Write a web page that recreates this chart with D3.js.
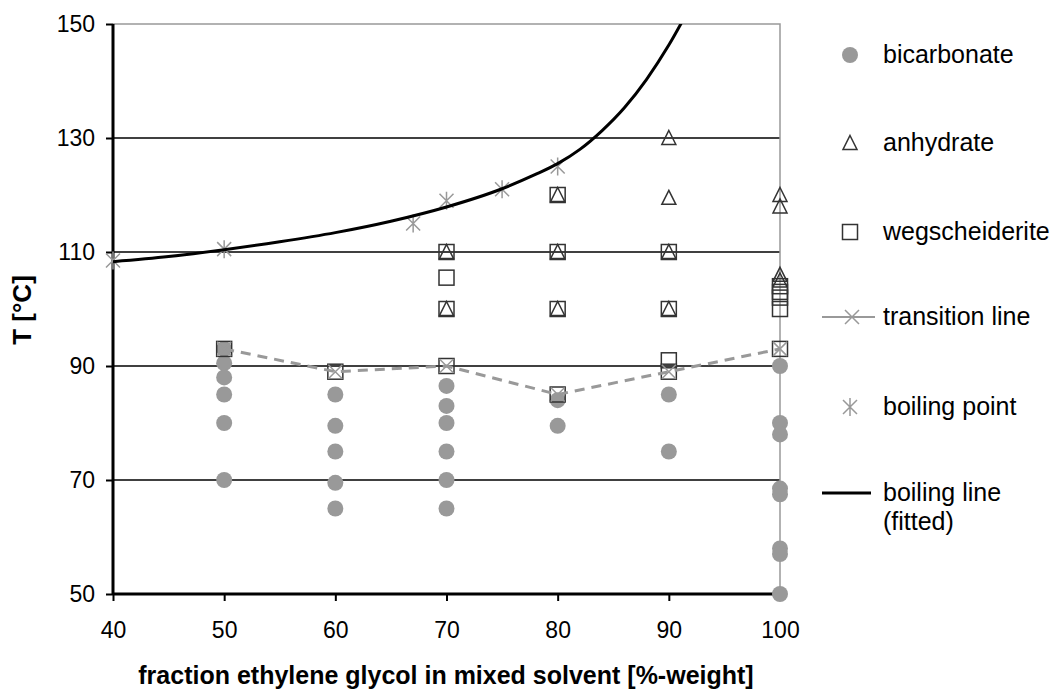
<!DOCTYPE html>
<html>
<head>
<meta charset="utf-8">
<script src="https://cdn.jsdelivr.net/npm/d3@7"></script>
<style>
  body { margin: 0; background: #fff; }
  text { font-family: "Liberation Sans", Arial, sans-serif; }
</style>
</head>
<body>
<svg id="chart" width="1055" height="690"></svg>
<script>
// data
var bicarbonate = [
    [50, 93], [50, 90.5], [50, 88], [50, 85], [50, 80], [50, 70],
    [60, 85], [60, 79.5], [60, 75], [60, 69.5], [60, 65],
    [70, 86.5], [70, 83], [70, 80], [70, 75], [70, 70], [70, 65],
    [80, 84], [80, 79.5],
    [90, 85], [90, 75],
    [100, 90], [100, 80], [100, 78], [100, 68.5], [100, 67.5], [100, 58], [100, 57], [100, 50]
];
var anhydrate = [
    [70, 110], [70, 100],
    [80, 120], [80, 110], [80, 100],
    [90, 130], [90, 119.5], [90, 110], [90, 100],
    [100, 120], [100, 118], [100, 106], [100, 105]
];
var wegscheiderite = [
    [50, 93], [60, 89],
    [70, 110], [70, 105.5], [70, 100], [70, 90],
    [80, 120], [80, 110], [80, 100], [80, 85],
    [90, 110], [90, 100], [90, 91], [90, 89],
    [100, 104], [100, 103], [100, 102], [100, 100], [100, 93]
];
var transitionLine = [[50, 93], [60, 89], [70, 90], [80, 85], [90, 89], [100, 93]];
var boilingPoint = [[40, 108.5], [50, 110.5], [67, 115], [70, 119], [75, 121], [80, 125]];
var boilingLine = [
    [40, 108.3], [45, 109.2], [50, 110.4], [55, 111.8], [60, 113.4], [65, 115.4],
    [70, 117.9], [75, 121.1], [78, 123.6], [80, 125.5], [82, 128], [84, 131.3],
    [86, 135.3], [88, 140.3], [90, 146.3], [91.5, 151.5]
];
var xTicks = [40, 50, 60, 70, 80, 90, 100];
var yTicks = [50, 70, 90, 110, 130, 150];
var legendNames = ["bicarbonate", "anhydrate", "wegscheiderite", "transition line", "boiling point", "boiling line"];

var svg = d3.select("#chart");
var pLeft = 113, pRight = 780, pTop = 24, pBottom = 594;
var x = d3.scaleLinear().domain([40, 100]).range([pLeft, pRight]);
var y = d3.scaleLinear().domain([50, 150]).range([pBottom, pTop]);

var gray = "#999999", dark = "#333333";

// clip for the plot area
svg.append("clipPath").attr("id", "plotClip")
    .append("rect").attr("x", pLeft).attr("y", pTop)
    .attr("width", pRight - pLeft).attr("height", pBottom - pTop);

// gridlines
svg.append("g").selectAll("line")
    .data(yTicks.filter(function (d) { return d > 50 && d < 150; }))
    .enter().append("line")
    .attr("x1", pLeft).attr("x2", pRight)
    .attr("y1", function (d) { return y(d); })
    .attr("y2", function (d) { return y(d); })
    .attr("stroke", "#000").attr("stroke-width", 1.5);

// top and right border (gray)
svg.append("path")
    .attr("d", "M" + pLeft + "," + pTop + "H" + pRight + "V" + pBottom)
    .attr("fill", "none").attr("stroke", gray).attr("stroke-width", 1.5);

// axes
var yAxis = d3.axisLeft(y).tickValues(yTicks).tickSize(7).tickPadding(11);
var xAxis = d3.axisBottom(x).tickValues(xTicks).tickSize(7).tickPadding(21);

var gy = svg.append("g").attr("transform", "translate(" + pLeft + ",0)").call(yAxis);
var gx = svg.append("g").attr("transform", "translate(0," + pBottom + ")").call(xAxis);
[gy, gx].forEach(function (g) {
    g.select(".domain").attr("stroke", "#000").attr("stroke-width", 3);
    g.selectAll(".tick line").attr("stroke", "#000").attr("stroke-width", 2);
    g.selectAll(".tick text").attr("font-size", 23).attr("fill", "#000")
        .attr("font-family", "Liberation Sans, Arial, sans-serif");
});
gy.select(".domain").attr("d", "M0," + pTop + "V" + pBottom);
gx.select(".domain").attr("d", "M" + pLeft + ",0H" + pRight);

// axis titles
svg.append("text")
    .attr("x", 446).attr("y", 684)
    .attr("text-anchor", "middle")
    .attr("font-size", 25).attr("font-weight", "bold")
    .text("fraction ethylene glycol in mixed solvent [%-weight]");
svg.append("text")
    .attr("transform", "translate(31,310) rotate(-90)")
    .attr("text-anchor", "middle")
    .attr("font-size", 26).attr("font-weight", "bold")
    .text("T [°C]");

// marker helpers
function drawCircle(g, cx, cy, r) {
    g.append("circle").attr("cx", cx).attr("cy", cy).attr("r", r || 8).attr("fill", gray);
}
function drawTriangle(g, cx, cy) {
    g.append("path")
        .attr("d", "M" + cx + "," + (cy - 7.5) + "L" + (cx + 7) + "," + (cy + 6.5) + "L" + (cx - 7) + "," + (cy + 6.5) + "Z")
        .attr("fill", "none").attr("stroke", dark).attr("stroke-width", 1.5);
}
function drawSquare(g, cx, cy) {
    g.append("rect").attr("x", cx - 7.5).attr("y", cy - 7.5).attr("width", 15).attr("height", 15)
        .attr("fill", "none").attr("stroke", dark).attr("stroke-width", 1.5);
}
function drawCross(g, cx, cy) {
    g.append("path")
        .attr("d", "M" + (cx - 7) + "," + (cy - 7) + "L" + (cx + 7) + "," + (cy + 7) +
            "M" + (cx + 7) + "," + (cy - 7) + "L" + (cx - 7) + "," + (cy + 7))
        .attr("stroke", gray).attr("stroke-width", 1.5).attr("fill", "none");
}
function drawStar(g, cx, cy) {
    g.append("path")
        .attr("d", "M" + (cx - 7) + "," + (cy - 7) + "L" + (cx + 7) + "," + (cy + 7) +
            "M" + (cx + 7) + "," + (cy - 7) + "L" + (cx - 7) + "," + (cy + 7) +
            "M" + cx + "," + (cy - 9) + "L" + cx + "," + (cy + 9))
        .attr("stroke", gray).attr("stroke-width", 1.5).attr("fill", "none");
}

var plot = svg.append("g");

// bicarbonate
var g1 = plot.append("g");
bicarbonate.forEach(function (d) { drawCircle(g1, x(d[0]), y(d[1])); });

// anhydrate
var g2 = plot.append("g");
anhydrate.forEach(function (d) { drawTriangle(g2, x(d[0]), y(d[1])); });

// wegscheiderite
var g3 = plot.append("g");
wegscheiderite.forEach(function (d) { drawSquare(g3, x(d[0]), y(d[1])); });

// transition line
var line = d3.line().x(function (d) { return x(d[0]); }).y(function (d) { return y(d[1]); });
plot.append("path").datum(transitionLine)
    .attr("d", line)
    .attr("fill", "none").attr("stroke", gray).attr("stroke-width", 3)
    .attr("stroke-dasharray", "10,7");
var g4 = plot.append("g");
transitionLine.forEach(function (d) { drawCross(g4, x(d[0]), y(d[1])); });

// boiling points
var g5 = plot.append("g");
boilingPoint.forEach(function (d) { drawStar(g5, x(d[0]), y(d[1])); });

// boiling line (fitted)
var curve = d3.line().curve(d3.curveMonotoneX)
    .x(function (d) { return x(d[0]); }).y(function (d) { return y(d[1]); });
plot.append("path").datum(boilingLine)
    .attr("clip-path", "url(#plotClip)")
    .attr("d", curve)
    .attr("fill", "none").attr("stroke", "#000").attr("stroke-width", 3);

// legend
var lg = svg.append("g").attr("font-size", 25);
var rows = [55, 143, 232, 317, 407, 493];
var mx = 850, tx = 883;
drawCircle(lg, mx, rows[0], 8);
drawTriangle(lg, mx, rows[1]);
drawSquare(lg, mx, rows[2]);
lg.append("line").attr("x1", 822).attr("x2", 875).attr("y1", rows[3]).attr("y2", rows[3])
    .attr("stroke", gray).attr("stroke-width", 2);
drawCross(lg, 852, rows[3]);
drawStar(lg, mx, rows[4]);
lg.append("line").attr("x1", 822).attr("x2", 871).attr("y1", rows[5]).attr("y2", rows[5])
    .attr("stroke", "#000").attr("stroke-width", 3);

legendNames.forEach(function (name, i) {
    lg.append("text").attr("x", tx).attr("y", rows[i] + 8).text(name);
});
lg.append("text").attr("x", tx).attr("y", rows[5] + 37).text("(fitted)");
</script>
</body>
</html>
